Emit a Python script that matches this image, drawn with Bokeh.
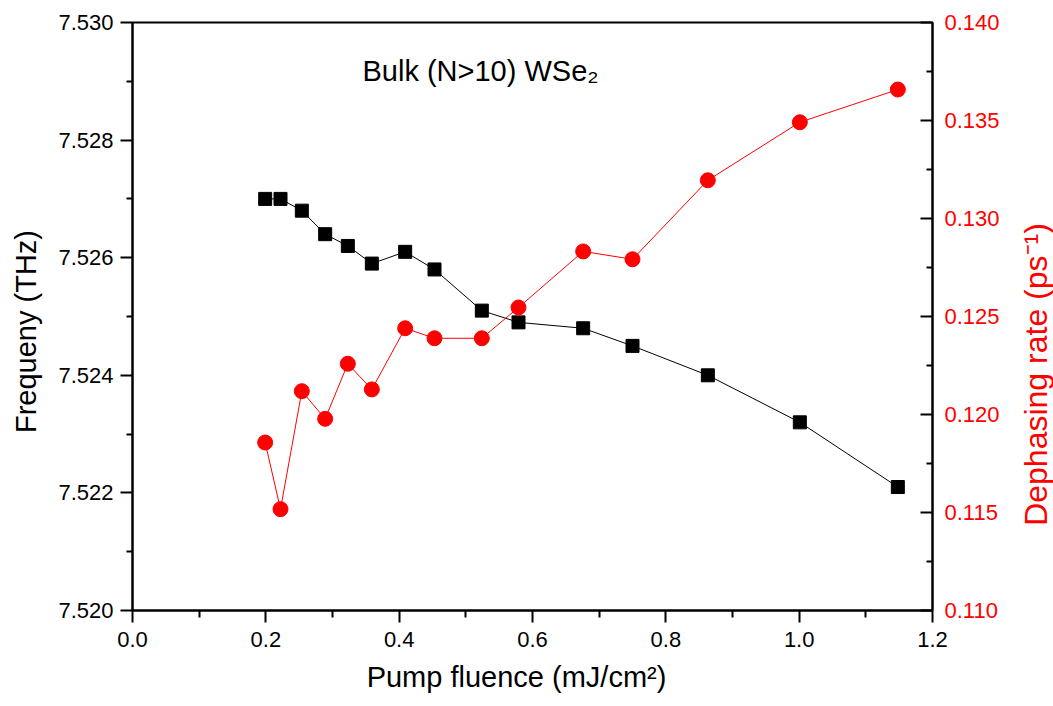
import math
from bokeh.plotting import figure
from bokeh.layouts import row, column
from bokeh.models import LinearAxis, Range1d, FixedTicker, NumeralTickFormatter, Label
from bokeh.embed import file_html
from bokeh.resources import INLINE

# Data
fluence = [0.199, 0.222, 0.254, 0.289, 0.323, 0.359, 0.409, 0.453, 0.524, 0.579, 0.676, 0.750, 0.863, 1.001, 1.148]
frequency = [7.5270, 7.5270, 7.5268, 7.5264, 7.5262, 7.5259, 7.5261, 7.5258, 7.5251, 7.5249, 7.5248, 7.5245, 7.5240, 7.5232, 7.5221]
dephasing = [0.11857, 0.11517, 0.12119, 0.11978, 0.12259, 0.12128, 0.12440, 0.12389, 0.12389, 0.12546, 0.12832, 0.12792, 0.13195, 0.13491, 0.13658]

x_ticks = [0.0, 0.2, 0.4, 0.6, 0.8, 1.0, 1.2]
x_minor = [0.1, 0.3, 0.5, 0.7, 0.9, 1.1]
freq_ticks = [7.520, 7.522, 7.524, 7.526, 7.528, 7.530]
freq_minor = [7.521, 7.523, 7.525, 7.527, 7.529]
deph_ticks = [0.110, 0.115, 0.120, 0.125, 0.130, 0.135, 0.140]
deph_minor = [0.1125, 0.1175, 0.1225, 0.1275, 0.1325, 0.1375]

title_text = "Bulk (N>10) WSe\u2082"
x_label = "Pump fluence (mJ/cm\u00b2)"
y_label = "Frequeny (THz)"
y2_label = "Dephasing rate (ps\u207b\u00b9)"

FONT = "Liberation Sans"
RED = "#ff0000"

MAIN_H = 662

p = figure(width=958, height=MAIN_H, output_backend="svg", toolbar_location=None,
           x_range=Range1d(0, 1.2), y_range=Range1d(7.520, 7.530),
           min_border_left=82, min_border_right=76, min_border_top=22, min_border_bottom=52,
           y_axis_location=None, x_axis_location=None)
p.xgrid.visible = False
p.ygrid.visible = False
p.outline_line_color = "black"
p.outline_line_width = 2
p.outline_line_alpha = 1.0
p.background_fill_color = "white"
p.border_fill_color = "white"

p.extra_y_ranges = {"deph": Range1d(0.110, 0.140)}

def style(ax, color="black"):
    ax.axis_line_width = 2
    ax.axis_line_color = "black"
    ax.major_tick_line_width = 2
    ax.minor_tick_line_width = 2
    ax.major_tick_line_color = "black"
    ax.minor_tick_line_color = "black"
    ax.major_label_text_font = FONT
    ax.major_label_text_font_size = "22px"
    ax.major_label_text_color = color

xa = LinearAxis(ticker=FixedTicker(ticks=x_ticks, minor_ticks=x_minor),
                formatter=NumeralTickFormatter(format="0.0"))
style(xa)
xa.major_tick_out = 12
xa.major_tick_in = 0
xa.minor_tick_out = 7
xa.minor_tick_in = 0
xa.major_label_standoff = 9
p.add_layout(xa, "below")

ya = LinearAxis(ticker=FixedTicker(ticks=freq_ticks, minor_ticks=freq_minor),
                formatter=NumeralTickFormatter(format="0.000"))
style(ya)
ya.major_tick_out = 12
ya.major_tick_in = 0
ya.minor_tick_out = 6
ya.minor_tick_in = 0
ya.major_label_standoff = 7
p.add_layout(ya, "left")

ya2 = LinearAxis(y_range_name="deph", ticker=FixedTicker(ticks=deph_ticks, minor_ticks=deph_minor),
                 formatter=NumeralTickFormatter(format="0.000"))
style(ya2, RED)
ya2.major_tick_out = 0
ya2.major_tick_in = 12
ya2.minor_tick_out = 0
ya2.minor_tick_in = 6
ya2.major_label_standoff = 12
p.add_layout(ya2, "right")

# Frequency series
p.line(fluence, frequency, line_color="black", line_width=1)
p.scatter(fluence, frequency, marker="square", size=13, fill_color="black", line_color="black")

# Dephasing series
p.line(fluence, dephasing, line_color=RED, line_width=1, y_range_name="deph")
p.scatter(fluence, dephasing, marker="circle", size=15, fill_color=RED, line_color=RED, y_range_name="deph")

p.add_layout(Label(x=348, y=540, x_units="screen", y_units="screen", text=title_text,
                   text_font=FONT, text_font_size="29px", text_color="black",
                   text_align="center", text_baseline="middle"))

def text_strip(w, h, label):
    f = figure(width=w, height=h, output_backend="svg", toolbar_location=None,
               x_range=Range1d(0, 1), y_range=Range1d(0, 1), min_border=0,
               min_border_left=0, min_border_right=0, min_border_top=0, min_border_bottom=0,
               x_axis_location=None, y_axis_location=None)
    f.xgrid.visible = False
    f.ygrid.visible = False
    f.outline_line_color = None
    f.background_fill_color = "white"
    f.border_fill_color = "white"
    f.add_layout(label)
    return f

left_strip = text_strip(50, MAIN_H, Label(x=25, y=279, x_units="screen", y_units="screen",
                                           text=y_label, text_font=FONT, text_font_size="29px",
                                           text_color="black", text_align="center",
                                           text_baseline="alphabetic", angle=math.pi / 2))
right_strip = text_strip(45, MAIN_H, Label(x=27, y=236, x_units="screen", y_units="screen",
                                            text=y2_label, text_font=FONT, text_font_size="32px",
                                            text_color=RED, text_align="center",
                                            text_baseline="alphabetic", angle=math.pi / 2))
bottom_strip = text_strip(1053, 706 - MAIN_H, Label(x=516, y=30, x_units="screen", y_units="screen",
                                                     text=x_label, text_font=FONT, text_font_size="29px",
                                                     text_color="black", text_align="center",
                                                     text_baseline="alphabetic"))

layout = column(row(left_strip, p, right_strip, spacing=0), bottom_strip, spacing=0)

open("out.html", "w").write(file_html(layout, INLINE))
